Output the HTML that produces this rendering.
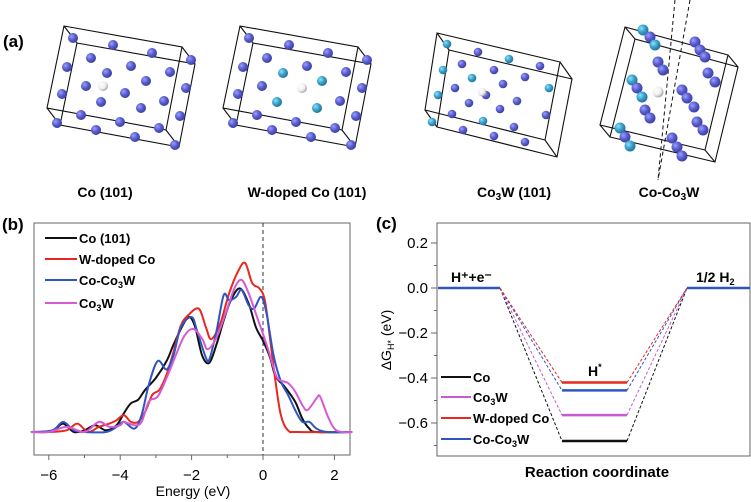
<!DOCTYPE html>
<html><head><meta charset="utf-8">
<style>
html,body{margin:0;padding:0;background:#fff;}
svg{display:block;font-family:"Liberation Sans",Arial,sans-serif;}
</style></head>
<body>
<svg id="fig" width="751" height="502" viewBox="0 0 751 502" xmlns="http://www.w3.org/2000/svg">
<defs>
<radialGradient id="gb" cx="0.35" cy="0.35" r="0.7"><stop offset="0" stop-color="#9aa0ff"/><stop offset="0.5" stop-color="#5a5ed0"/><stop offset="1" stop-color="#3a3c9a"/></radialGradient>
<radialGradient id="gc" cx="0.35" cy="0.35" r="0.7"><stop offset="0" stop-color="#8ee0ff"/><stop offset="0.5" stop-color="#3aa2cc"/><stop offset="1" stop-color="#1f6e8e"/></radialGradient>
<radialGradient id="gw" cx="0.35" cy="0.35" r="0.7"><stop offset="0" stop-color="#ffffff"/><stop offset="0.6" stop-color="#eeeeee"/><stop offset="1" stop-color="#a0a0a0"/></radialGradient>
</defs>
<g id="panelA">
<text x="3" y="47" font-size="17" font-weight="bold">(a)</text>
<g id="structs"></g>
<text x="105" y="197" font-size="14" font-weight="bold" text-anchor="middle">Co (101)</text>
<text x="307" y="197" font-size="14" font-weight="bold" text-anchor="middle">W-doped Co (101)</text>
<text x="514" y="197" font-size="14" font-weight="bold" text-anchor="middle">Co<tspan font-size="10" dy="3">3</tspan><tspan dy="-3">W (101)</tspan></text>
<text x="669" y="197" font-size="14" font-weight="bold" text-anchor="middle">Co-Co<tspan font-size="10" dy="3">3</tspan><tspan dy="-3">W</tspan></text>
</g>
<g id="panelB">
<text x="2" y="230" font-size="17" font-weight="bold">(b)</text>
<rect x="34" y="223" width="316" height="232" fill="none" stroke="#666" stroke-width="1"/>
<g id="bTicks"></g>
<line x1="263" y1="223" x2="263" y2="455" stroke="#333" stroke-dasharray="4,3"/>
<g id="bLines"></g>
<text x="193" y="496" font-size="14" text-anchor="middle">Energy (eV)</text>
<g id="bLegend"></g>
</g>
<g id="panelC">
<text x="376" y="229" font-size="17" font-weight="bold">(c)</text>
<rect x="437" y="223" width="313" height="233" fill="none" stroke="#666" stroke-width="1"/>
<g id="cTicks"></g>
<g id="cLines"></g>
<text transform="translate(391,340) rotate(-90)" font-size="14" text-anchor="middle">ΔG<tspan font-size="9" dy="3">H*</tspan><tspan dy="-3"> (eV)</tspan></text>
<text x="451" y="282" font-size="14" font-weight="bold">H⁺+e⁻</text>
<text x="696" y="282" font-size="14" font-weight="bold">1/2 H<tspan font-size="9" dy="3">2</tspan></text>
<text x="588" y="376" font-size="14" font-weight="bold">H<tspan font-size="9" dy="-6">*</tspan></text>
<text x="597" y="477" font-size="15" font-weight="bold" text-anchor="middle">Reaction coordinate</text>
<g id="cLegend"></g>
</g>
</svg>
<script>
// ---------- Panel (b) data ----------
const seriesNames = ["Co (101)", "W-doped Co", "Co-Co3W", "Co3W"];
const seriesColors = ["#111111", "#e8281e", "#2f55c0", "#d65ad6"];
const coE = [-6.5,-6.1,-5.85,-5.6,-5.3,-5.0,-4.7,-4.4,-4.1,-3.9,-3.7,-3.5,-3.3,-3.0,-2.7,-2.5,-2.2,-2.05,-1.9,-1.7,-1.5,-1.3,-1.1,-0.9,-0.65,-0.4,-0.2,0,0.2,0.35,0.6,0.9,1.1,1.3,1.5,2.5];
const coV = [0,0,1,5,0,1,4,1,4,11,17,19,25,32,42,52,65,68,62,45,41,52,66,78,85,76,62,54,44,33,27,18,8,2,0,0];
const wE = [-6.5,-6.0,-5.5,-5.2,-4.9,-4.6,-4.3,-4.1,-3.9,-3.7,-3.5,-3.3,-3.1,-2.9,-2.7,-2.5,-2.3,-2.1,-1.8,-1.6,-1.45,-1.2,-0.95,-0.7,-0.5,-0.3,-0.1,0.05,0.2,0.35,0.5,0.7,1.0,2.5];
const wV = [0,0,1,5,0,3,5,7,10,6,6,12,22,25,34,48,63,69,73,62,55,64,82,95,100,88,85,78,55,30,10,1,0,0];
const ccE = [-6.5,-5.9,-5.6,-5.3,-5.0,-4.4,-4.1,-3.9,-3.6,-3.4,-3.2,-2.95,-2.7,-2.5,-2.3,-2.0,-1.85,-1.6,-1.5,-1.3,-1.1,-0.95,-0.75,-0.6,-0.4,-0.25,-0.05,0.1,0.3,0.5,0.7,0.9,1.1,1.3,1.5,1.8,2.5];
const ccV = [0,1,6,1,0,0,3,6,2,10,28,42,37,46,62,68,60,44,43,60,81,78,80,84,75,73,80,70,45,30,22,13,6,6,2,0,0];
const c3E = [-6.5,-6.0,-5.5,-5.0,-4.6,-4.3,-4.0,-3.9,-3.6,-3.4,-3.2,-2.95,-2.7,-2.45,-2.2,-1.95,-1.7,-1.55,-1.3,-1.05,-0.8,-0.6,-0.4,-0.2,0,0.2,0.4,0.7,0.9,1.1,1.25,1.5,1.6,1.8,2.0,2.2,2.5];
const c3V = [0,0,3,0,6,3,4,6,4,6,18,21,32,45,57,61,55,49,56,70,85,90,82,70,58,45,32,29,24,16,13,20,21,10,2,0,0];
const xTicks = [-6,-4,-2,0,2];
const NS="http://www.w3.org/2000/svg";
function mk(tag, attrs, parent){const e=document.createElementNS(NS,tag);for(const k in attrs)e.setAttribute(k,attrs[k]);parent.appendChild(e);return e;}
const bx = e => 263 + e*35.7;
const by = v => 432 - v*1.69;
function smooth(pts){
  let d="M"+pts[0][0].toFixed(1)+","+pts[0][1].toFixed(1);
  for(let i=0;i<pts.length-1;i++){
    const p0=pts[Math.max(0,i-1)],p1=pts[i],p2=pts[i+1],p3=pts[Math.min(pts.length-1,i+2)];
    const c1=[p1[0]+(p2[0]-p0[0])/6,p1[1]+(p2[1]-p0[1])/6];
    const c2=[p2[0]-(p3[0]-p1[0])/6,p2[1]-(p3[1]-p1[1])/6];
    d+=` C${c1[0].toFixed(1)},${c1[1].toFixed(1)} ${c2[0].toFixed(1)},${c2[1].toFixed(1)} ${p2[0].toFixed(1)},${p2[1].toFixed(1)}`;
  }
  return d;
}
const bT=document.getElementById('bTicks');
for(let e=-6;e<=2;e++){
  const t=mk('line',{x1:bx(e),x2:bx(e),y1:455,y2:xTicks.includes(e)?460:458,stroke:'#666'},bT);
  
  
}
xTicks.forEach(v=>{
  const t=mk('text',{x:bx(v),y:480,'font-size':15,'text-anchor':'middle'},bT);
  t.textContent=(v<0?'\u2212'+Math.abs(v):String(v));
  
  
});
const bL=document.getElementById('bLines');
const allE=[coE,wE,ccE,c3E], allV=[coV,wV,ccV,c3V];
const slugs=['co-101','w-doped-co','co-co3w','co3w'];
allE.forEach((E,i)=>{
  const pts=E.map((e,j)=>[bx(Math.max(-6.5,Math.min(2.5,e))),by(allV[i][j])]);
  const p=mk('path',{d:smooth(pts),fill:'none',stroke:seriesColors[i],'stroke-width':2},bL);
  
  
});
const bLeg=document.getElementById('bLegend');
const legY=[238,259,280,303];
seriesNames.forEach((n,i)=>{
  const l=mk('line',{x1:45,x2:77,y1:legY[i],y2:legY[i],stroke:seriesColors[i],'stroke-width':2},bLeg);
  
  
  const t=mk('text',{x:79,y:legY[i]+5,'font-size':13,'font-weight':'bold'},bLeg);
  
  
  if(n.indexOf('3W')>=0){const parts=n.split('3W');t.innerHTML=parts[0]+'<tspan font-size="9" dy="3">3</tspan><tspan dy="-3">W</tspan>';}
  else t.textContent=n;
});
// ---------- Panel (c) data ----------
const catNames = ["Co", "Co3W", "W-doped Co", "Co-Co3W"];
const catColors = ["#111111", "#c85ad6", "#e8281e", "#2f55c0"];
const dG = [-0.68, -0.565, -0.42, -0.455];
const yTicks = [0.2, 0.0, -0.2, -0.4, -0.6];
const cy = v => 288 - v*225;
const cT=document.getElementById('cTicks');
for(let k=-7;k<=2;k++){
  const v=k/10, major=(k%2===0);
  const t=mk('line',{x1:major?431:434,x2:437,y1:cy(v),y2:cy(v),stroke:'#666'},cT);
  
  
}
yTicks.forEach(v=>{
  const t=mk('text',{x:428,y:cy(v)+5,'font-size':15,'text-anchor':'end'},cT);
  t.textContent=(v<0?'\u2212':'')+Math.abs(v).toFixed(1);
  
  
});
const cL=document.getElementById('cLines');
const order=[0,1,3,2];
order.forEach(i=>{
  const d1=mk('line',{x1:500,y1:cy(0),x2:562,y2:cy(dG[i]),stroke:catColors[i],'stroke-width':1,'stroke-dasharray':'3,2'},cL);
  
  
  const d2=mk('line',{x1:627,y1:cy(dG[i]),x2:687,y2:cy(0),stroke:catColors[i],'stroke-width':1,'stroke-dasharray':'3,2'},cL);
  
  
});
order.forEach(i=>{
  const h=mk('line',{x1:562,x2:627,y1:cy(dG[i]),y2:cy(dG[i]),stroke:catColors[i],'stroke-width':2.5},cL);
  
  
});
const s=mk('line',{x1:438,x2:500,y1:cy(0),y2:cy(0),stroke:'#2f55c0','stroke-width':2.5},cL);


const f=mk('line',{x1:687,x2:750,y1:cy(0),y2:cy(0),stroke:'#2f55c0','stroke-width':2.5},cL);


const cLeg=document.getElementById('cLegend');
const cLegY=[377,397,418,439];
catNames.forEach((n,i)=>{
  const l=mk('line',{x1:441,x2:471,y1:cLegY[i],y2:cLegY[i],stroke:catColors[i],'stroke-width':2},cLeg);
  
  
  const t=mk('text',{x:473,y:cLegY[i]+5,'font-size':13,'font-weight':'bold'},cLeg);
  
  
  if(n.indexOf('3W')>=0){const parts=n.split('3W');t.innerHTML=parts[0]+'<tspan font-size="9" dy="3">3</tspan><tspan dy="-3">W</tspan>';}
  else t.textContent=n;
});
// ---------- Panel (a) structures ----------
const st=document.getElementById('structs');
function box(A,off,name){
  const B=A.map(p=>[p[0]+off[0],p[1]+off[1]]);
  const g=mk('g',{fill:'none',stroke:'#111','stroke-width':1.1},st);
  
  
  mk('polygon',{points:A.map(p=>p.join(',')).join(' ')},g);
  mk('polygon',{points:B.map(p=>p.join(',')).join(' ')},g);
  for(let i=0;i<4;i++)mk('line',{x1:A[i][0],y1:A[i][1],x2:B[i][0],y2:B[i][1]},g);
}
function atom(x,y,type,r){
  const c=mk('circle',{cx:x,cy:y,r:r||5,fill:type==='c'?'url(#gc)':type==='w'?'url(#gw)':'url(#gb)'},st);
  
  
}
const baseAtoms=[[73,38],[113,45],[152,53],[191,60],[67,67],[91,58],[131,66],[170,72],[107,73],[146,81],[86,86],[125,93],[164,101],[62,94],[101,102],[141,108],[186,88],[180,116],[81,115],[120,122],[159,128],[57,123],[96,130],[135,137],[175,145]];
const boxA=[[64,26],[182,47],[166,130],[47,108]];
box(boxA,[13,17],'unit-cell-co');
baseAtoms.forEach(p=>atom(p[0],p[1],'b'));
atom(103,86,'w');
box(boxA.map(p=>[p[0]+176,p[1]]),[13,17],'unit-cell-w-doped-co');
const cy2=[[107,73],[146,81],[101,102],[141,108]];
baseAtoms.forEach(p=>{
  if(p[0]===125&&p[1]===93)return;
  const cyan=cy2.some(q=>q[0]===p[0]&&q[1]===p[1]);
  atom(p[0]+176,p[1],cyan?'c':'b');
});
atom(302,88,'w');
box([[437,33],[560,62],[545,140],[425,110]],[12,17],'unit-cell-co3w');
const b3=[[447,44],[478,52],[509,59],[540,66],[443,70],[462,64],[494,70],[525,77],[472,78],[503,84],[455,88],[486,95],[517,101],[438,95],[469,103],[500,109],[549,88],[546,115],[452,114],[483,121],[514,127],[432,122],[463,130],[494,136],[525,142]];
const b3c=[0,2,4,8,13,16,19,21];
b3.forEach((p,i)=>atom(p[0],p[1],b3c.includes(i)?'c':'b',4.3));
atom(482,92,'w',4.3);
box([[625,27],[728,55],[705,150],[600,125]],[10,12],'unit-cell-co-co3w');
const dg=mk('g',{stroke:'#111','stroke-width':1,'stroke-dasharray':'4,3',fill:'none'},st);


mk('line',{x1:675,y1:0,x2:658,y2:180},dg);
mk('line',{x1:690,y1:0,x2:658,y2:180},dg);
const chains=[[[643,30,'c'],[650,37,'b'],[655,45,'c']],[[695,42,'b'],[700,50,'b'],[705,57,'b']],[[658,62,'b'],[663,70,'b']],[[708,73,'b'],[715,82,'b']],[[632,80,'c'],[637,88,'b'],[642,97,'c']],[[682,90,'b'],[687,98,'b'],[694,107,'b']],[[645,110,'b'],[650,118,'b']],[[697,122,'b'],[703,130,'b']],[[620,128,'c'],[625,137,'b'],[630,146,'c']],[[672,138,'b'],[677,147,'b'],[682,156,'b']]];
chains.forEach(ch=>ch.forEach(p=>atom(p[0],p[1],p[2],5.5)));
atom(658,92,'w',5.5);
</script>
</body></html>
